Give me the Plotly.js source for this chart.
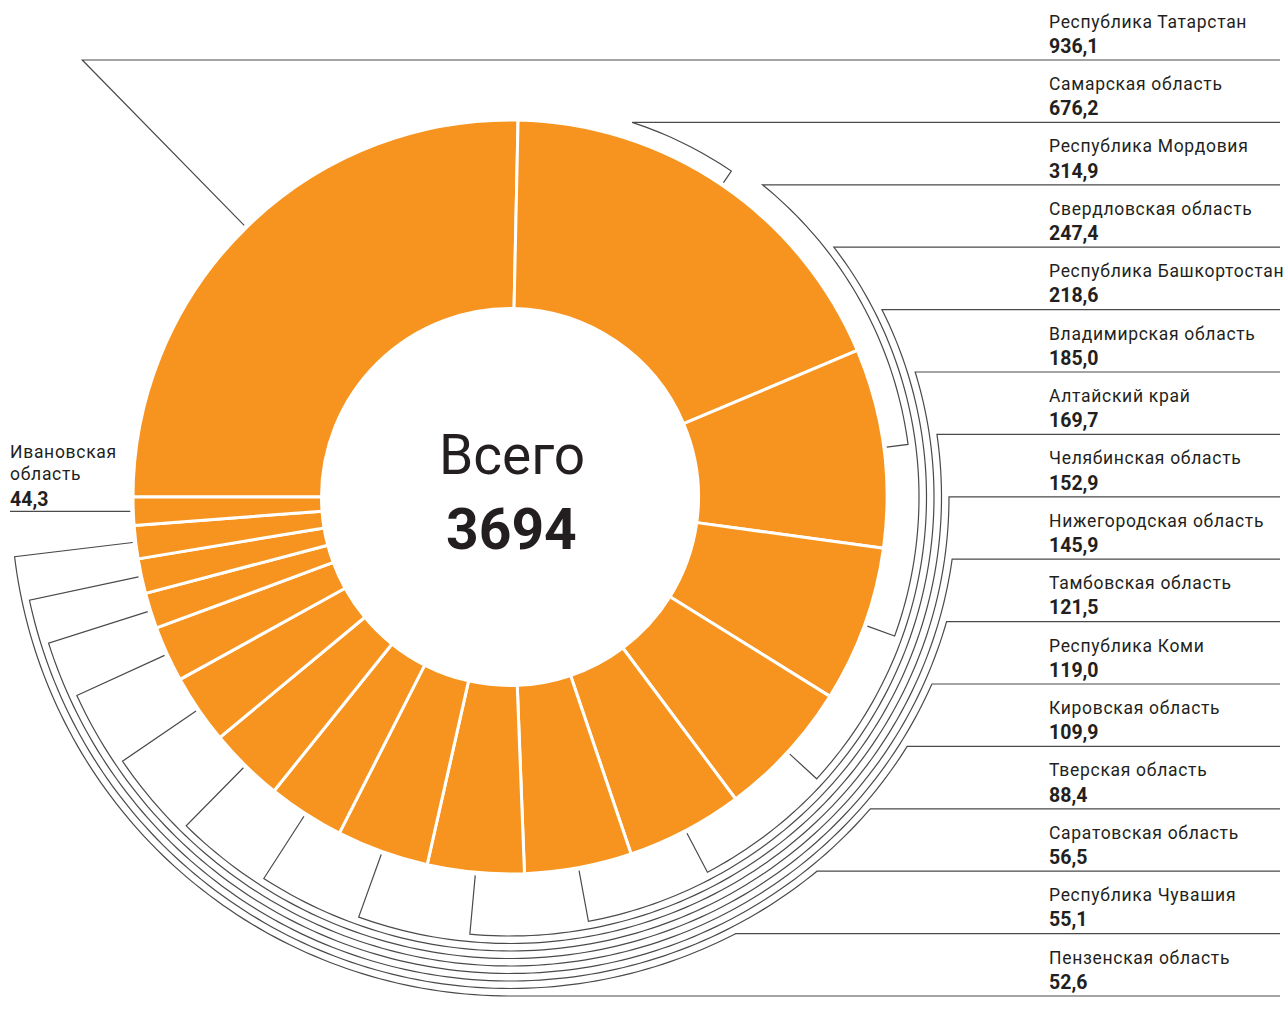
<!DOCTYPE html>
<html><head><meta charset="utf-8">
<script src="https://cdn.plot.ly/plotly-3.0.1.min.js"></script>
<style>html,body{margin:0;padding:0;background:#fff}</style>
</head><body><div id="chart" style="width:1286px;height:1018px"></div>
<script>
// ---- data ----
const regions = ["Республика Татарстан", "Самарская область", "Республика Мордовия", "Свердловская область",
  "Республика Башкортостан", "Владимирская область", "Алтайский край", "Челябинская область",
  "Нижегородская область", "Тамбовская область", "Республика Коми", "Кировская область",
  "Тверская область", "Саратовская область", "Республика Чувашия", "Пензенская область", "Ивановская область"];
const values = [936.1, 676.2, 314.9, 247.4, 218.6, 185.0, 169.7, 152.9, 145.9, 121.5, 119.0, 109.9, 88.4, 56.5, 55.1, 52.6, 44.3];
const centerTitle = "Всего";

// ---- layout constants ----
const W = 1286, H = 1018;
const CX = 510, CY = 497, R = 377, HOLE = 0.5;
const ORANGE = '#F7941F';
const ROW0 = 60, ROWSTEP = 62.4, LABEL_X = 1049, LINE_END = 1280;
const TICK_R0 = 380, ARC_R0 = 394, ARC_STEP = 7.5;
const START = -90;

const total = values.reduce((a, b) => a + b, 0);
const fmt = v => v.toFixed(1).replace('.', ',');
const deg = Math.PI / 180;
const X = px => px / W, Y = py => 1 - py / H;
const pt = (r, th) => [CX + r * Math.sin(th * deg), CY - r * Math.cos(th * deg)];
const pathOf = pts => pts.map((p, i) => (i ? 'L' : 'M') + X(p[0]).toFixed(6) + ',' + Y(p[1]).toFixed(6)).join(' ');

let cum = 0;
const mids = values.map(v => { const m = START + (cum + v / 2) / total * 360; cum += v; return m; });

const shapes = [], annotations = [], nameIdx = new Set();
const lineStyle = { color: '#4a4a4a', width: 1.2 };
const nameFont = { family: 'Roboto, "Open Sans", sans-serif', size: 17.5, color: '#231f20' };
const valFont = { family: 'Roboto, "Open Sans", sans-serif', size: 19.5, color: '#231f20', weight: 700 };

function addText(text, px, py, font, isName) {
  if (isName) nameIdx.add(annotations.length);
  annotations.push({ text, x: X(px - 2), y: Y(py), xref: 'paper', yref: 'paper', xanchor: 'left', yanchor: 'middle',
    align: 'left', showarrow: false, font });
}

const last = values.length - 1;
for (let i = 0; i < last; i++) {
  const rowY = ROW0 + ROWSTEP * i;
  const th = mids[i];
  const pts = [pt(TICK_R0, th)];
  if (i === 0) {
    const rEnd = (CY - rowY) / Math.cos(th * deg);
    pts.push(pt(rEnd, th));
  } else {
    const r = ARC_R0 + ARC_STEP * (i - 1);
    const c = Math.max(-1, Math.min(1, (CY - rowY) / r));
    const thEnd = Math.acos(c) / deg;
    for (let a = th; a > thEnd; a -= 1) pts.push(pt(r, a));
    pts.push(pt(r, thEnd));
  }
  pts.push([LINE_END, rowY]);
  shapes.push({ type: 'path', xref: 'paper', yref: 'paper', path: pathOf(pts), line: lineStyle });
  addText(regions[i], LABEL_X, rowY - 38.5, nameFont, true);
  addText(fmt(values[i]), LABEL_X, rowY - 13.7, valFont, false);
}
// left label (last region)
{
  const p = pt(TICK_R0, mids[last]);
  shapes.push({ type: 'path', xref: 'paper', yref: 'paper', path: pathOf([[10, p[1]], p]), line: lineStyle });
  const parts = regions[last].split(' ');
  addText(parts[0], 10, 452, nameFont, true);
  addText(parts[1], 10, 474, nameFont, true);
  addText(fmt(values[last]), 10, 499.5, valFont, false);
}
// center
annotations.push({ text: centerTitle, x: X(CX + 2), y: Y(455), xref: 'paper', yref: 'paper', showarrow: false,
  xanchor: 'center', yanchor: 'middle', font: { family: 'Roboto, sans-serif', size: 55, color: '#231f20' } });
annotations.push({ text: String(Math.round(total)), x: X(CX + 1), y: Y(529), xref: 'paper', yref: 'paper', showarrow: false,
  xanchor: 'center', yanchor: 'middle', font: { family: 'Roboto, sans-serif', size: 57, color: '#231f20', weight: 700 } });

const trace = {
  type: 'pie', values: values, labels: regions, sort: false, direction: 'clockwise', rotation: START,
  hole: HOLE, textinfo: 'none', hoverinfo: 'label+value', showlegend: false,
  marker: { colors: regions.map(() => ORANGE), line: { color: '#ffffff', width: 3 } },
  domain: { x: [X(CX - R), X(CX + R)], y: [Y(CY + R), Y(CY - R)] }
};

Plotly.newPlot('chart', [trace], {
  width: W, height: H, margin: { l: 0, r: 0, t: 0, b: 0 },
  paper_bgcolor: '#fff', showlegend: false, shapes, annotations
}, { displayModeBar: false, responsive: false }).then(gd => {
  gd.querySelectorAll('g.annotation').forEach(g => {
    const idx = +g.getAttribute('data-index');
    if (nameIdx.has(idx)) { const t = g.querySelector('text'); if (t) t.style.letterSpacing = '0.7px'; }
  });
});
</script></body></html>
